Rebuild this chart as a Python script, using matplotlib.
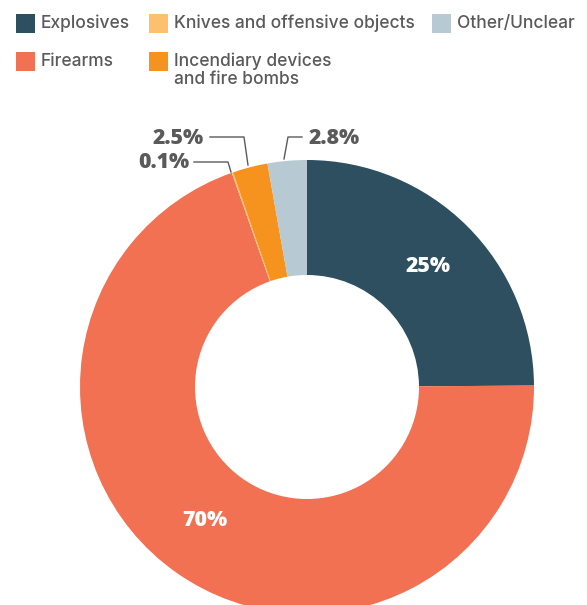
import matplotlib
matplotlib.use("Agg")
import matplotlib.pyplot as plt
from matplotlib.patches import Rectangle

categories = ["Explosives", "Firearms", "Knives and offensive objects",
              "Incendiary devices\nand fire bombs", "Other/Unclear"]
values = [25, 70, 0.1, 2.5, 2.8]
labels = ["25%", "70%", "0.1%", "2.5%", "2.8%"]
colors = ["#2d4f5f", "#f27152", "#fdc06c", "#f6921e", "#b7cad3"]

W, H = 587, 605
fig = plt.figure(figsize=(W / 100, H / 100), dpi=100)
ax = fig.add_axes([0, 0, 1, 1])
ax.set_xlim(0, W)
ax.set_ylim(0, H)
ax.set_aspect("equal")
ax.axis("off")

def Y(y):
    return H - y

cx, cy, R, r = 307, 387, 227, 112
ax.pie(values, colors=colors, startangle=90, counterclock=False,
       center=(cx, Y(cy)), radius=R, normalize=True,
       wedgeprops=dict(width=R - r, linewidth=0))
ax.set_xlim(0, W)
ax.set_ylim(0, H)

LFONT = "Inter"
PFONT = "Open Sans"
gray = "#5a5a5a"
PS = 15.3

# inner labels
ax.text(428, Y(266), labels[0], color="white", fontsize=PS, fontweight="heavy",
        family=PFONT, ha="center", va="center")
ax.text(205, Y(521), labels[1], color="white", fontsize=PS, fontweight="heavy",
        family=PFONT, ha="center", va="center")

# outer labels with leaders
ax.text(309, Y(138), labels[4], color=gray, fontsize=PS, fontweight="heavy",
        family=PFONT, ha="left", va="center")
ax.plot([302, 288, 284], [Y(137), Y(137), Y(159)], color=gray, lw=1)
ax.text(204, Y(138), labels[3], color=gray, fontsize=PS, fontweight="heavy",
        family=PFONT, ha="right", va="center")
ax.plot([210, 244, 248], [Y(137), Y(137), Y(165)], color=gray, lw=1)
ax.text(189, Y(162), labels[2], color=gray, fontsize=PS, fontweight="heavy",
        family=PFONT, ha="right", va="center")
ax.plot([194, 228, 231], [Y(162), Y(162), Y(172)], color=gray, lw=1)

# legend
LS = 12.5
legend_pos = [(16, 14), (16, 52), (149, 14), (149, 52), (432, 14)]
for (x, y), lab, col in zip(legend_pos, categories, colors):
    ax.add_patch(Rectangle((x, Y(y + 19)), 19, 19, color=col, lw=0))
    lines = lab.split("\n")
    ax.text(x + 25, Y(y + 9), lines[0], color=gray, fontsize=LS,
            fontweight="medium", family=LFONT, ha="left", va="center")
    if len(lines) > 1:
        ax.text(x + 25, Y(y + 27), lines[1], color=gray, fontsize=LS,
                fontweight="medium", family=LFONT, ha="left", va="center")

fig.savefig("out.png", dpi=100)
